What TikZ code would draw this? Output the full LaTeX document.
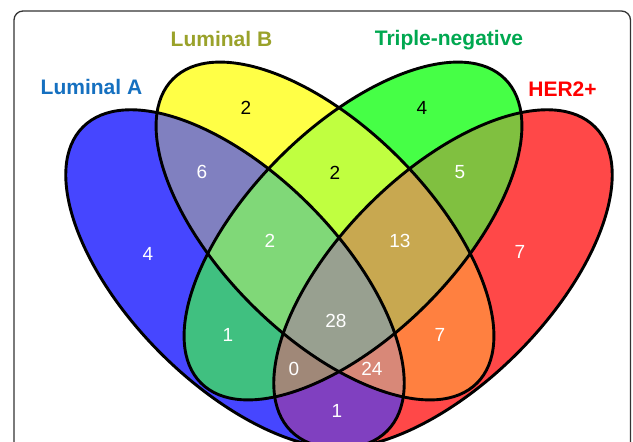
\documentclass[tikz,border=0pt]{standalone}
\usepackage{fontspec}
\setmainfont{Liberation Sans}
\definecolor{cA}{HTML}{4646FF}
\definecolor{cB}{HTML}{FFFF46}
\definecolor{cC}{HTML}{46FF46}
\definecolor{cD}{HTML}{FF4848}
\definecolor{cAB}{HTML}{8080C0}
\definecolor{cAC}{HTML}{40C080}
\definecolor{cAD}{HTML}{8040C0}
\definecolor{cBC}{HTML}{C0FF40}
\definecolor{cBD}{HTML}{FF8040}
\definecolor{cCD}{HTML}{80C040}
\definecolor{cABC}{HTML}{80D878}
\definecolor{cABD}{HTML}{D88878}
\definecolor{cACD}{HTML}{A08878}
\definecolor{cBCD}{HTML}{C8A850}
\definecolor{cABCD}{HTML}{98A090}
\definecolor{labA}{HTML}{1570C0}
\definecolor{labB}{HTML}{9AA22A}
\definecolor{labC}{HTML}{00A850}
\definecolor{labD}{HTML}{FF0000}
\newcommand\clipA{\clip[rotate around={-45:(235,279)}] (235,279) ellipse (215 and 105);}
\newcommand\clipB{\clip[rotate around={-45:(325,231)}] (325,231) ellipse (215 and 104);}
\newcommand\clipC{\clip[rotate around={45:(353,231)}] (353,231) ellipse (215 and 104);}
\newcommand\clipD{\clip[rotate around={45:(443,279)}] (443,279) ellipse (215 and 105);}
\newcommand\paint[1]{\fill[#1] (0,0) rectangle (633,442);}
\begin{document}
\begin{tikzpicture}[x=1pt,y=-1pt,
  outline/.style={draw=black,line width=2.9pt},
  num/.style={font=\fontsize{19}{19}\selectfont,text=white,anchor=base,inner sep=0pt},
  numk/.style={num,text=black},
  setlabel/.style={font=\fontsize{21}{21}\selectfont\bfseries,anchor=base,inner sep=0pt},
  frame/.style={draw=black!80,line width=1.3pt,rounded corners=9pt}]
\useasboundingbox (0,0) rectangle (633,442);
\clip (0,0) rectangle (633,442);
\fill[white] (0,0) rectangle (633,442);
\draw[frame] (14,480) -- (14,11) -- (630.5,11) -- (630.5,480);
% single sets
\begin{scope}\clipA\paint{cA}\end{scope}
\begin{scope}\clipB\paint{cB}\end{scope}
\begin{scope}\clipC\paint{cC}\end{scope}
\begin{scope}\clipD\paint{cD}\end{scope}
% pairs
\begin{scope}\clipA\clipB\paint{cAB}\end{scope}
\begin{scope}\clipA\clipC\paint{cAC}\end{scope}
\begin{scope}\clipA\clipD\paint{cAD}\end{scope}
\begin{scope}\clipB\clipC\paint{cBC}\end{scope}
\begin{scope}\clipB\clipD\paint{cBD}\end{scope}
\begin{scope}\clipC\clipD\paint{cCD}\end{scope}
% triples
\begin{scope}\clipA\clipB\clipC\paint{cABC}\end{scope}
\begin{scope}\clipA\clipB\clipD\paint{cABD}\end{scope}
\begin{scope}\clipA\clipC\clipD\paint{cACD}\end{scope}
\begin{scope}\clipB\clipC\clipD\paint{cBCD}\end{scope}
% all four
\begin{scope}\clipA\clipB\clipC\clipD\paint{cABCD}\end{scope}
% outlines
\draw[outline,rotate around={-45:(235,279)}] (235,279) ellipse (215 and 105);
\draw[outline,rotate around={-45:(325,231)}] (325,231) ellipse (215 and 104);
\draw[outline,rotate around={45:(353,231)}] (353,231) ellipse (215 and 104);
\draw[outline,rotate around={45:(443,279)}] (443,279) ellipse (215 and 105);
% set labels
\node[setlabel,text=labA] (labelA) at (91.5,94) {Luminal A};
\node[setlabel,text=labB] (labelB) at (221.5,46) {Luminal B};
\node[setlabel,text=labC] (labelC) at (449,45.5) {Triple-negative};
\node[setlabel,text=labD] (labelD) at (562.5,96) {HER2+};
% counts
\node[num]  (nA)    at (148,260) {4};
\node[numk] (nB)    at (246,114) {2};
\node[numk] (nC)    at (422,114) {4};
\node[num]  (nD)    at (520,258) {7};
\node[num]  (nAB)   at (202,178) {6};
\node[numk] (nBC)   at (335,179) {2};
\node[num]  (nCD)   at (460,178) {5};
\node[num]  (nABC)  at (270,247) {2};
\node[num]  (nBCD)  at (400,247) {13};
\node[num]  (nABCD) at (336,327) {28};
\node[num]  (nAC)   at (228,341) {1};
\node[num]  (nBD)   at (440,341) {7};
\node[num]  (nACD)  at (294,375) {0};
\node[num]  (nABD)  at (372,375) {24};
\node[num]  (nAD)   at (337,417) {1};
\end{tikzpicture}
\end{document}
